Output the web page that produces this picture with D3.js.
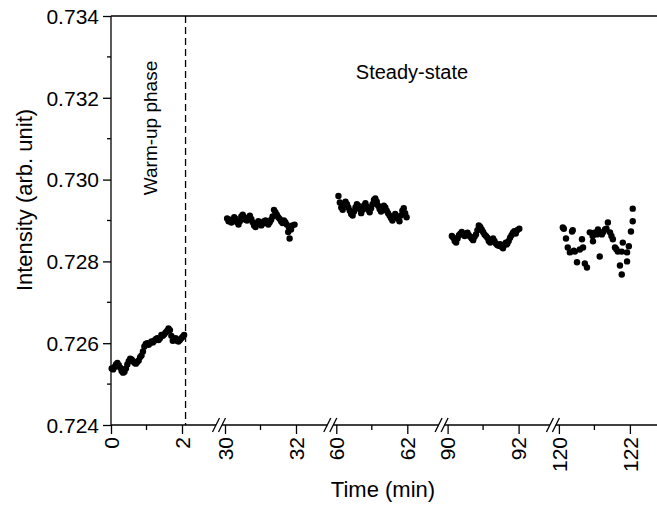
<!DOCTYPE html>
<html>
<head>
<meta charset="utf-8">
<script src="https://cdn.jsdelivr.net/npm/d3@7"></script>
<style>
  body { margin: 0; background: #fff; }
  text { font-family: "Liberation Sans", Arial, sans-serif; fill: #000; }
</style>
</head>
<body>
<div id="chart"></div>
<script>
// segment starts on the broken time axis (min)
const segmentStarts = [0, 30, 60, 90, 120];
const yTicks = [0.724, 0.726, 0.728, 0.730, 0.732, 0.734];

// [time (min), intensity]
const warmup = [
  [0.02, .72538], [0.06, .72536], [0.10, .72542], [0.14, .72548], [0.18, .72552],
  [0.22, .72546], [0.26, .72540], [0.30, .72532], [0.34, .72528], [0.38, .72530],
  [0.42, .72538], [0.46, .72548], [0.50, .72556], [0.54, .72562], [0.58, .72560],
  [0.62, .72556], [0.66, .72552], [0.70, .72550], [0.74, .72554], [0.78, .72558],
  [0.82, .72566], [0.86, .72570], [0.90, .72580], [0.94, .72592], [0.98, .72598],
  [1.02, .72600], [1.06, .72596], [1.10, .72600], [1.14, .72604], [1.18, .72602],
  [1.22, .72606], [1.26, .72610], [1.30, .72612], [1.34, .72608], [1.38, .72612],
  [1.42, .72620], [1.46, .72618], [1.50, .72622], [1.54, .72626], [1.58, .72630],
  [1.62, .72636], [1.66, .72632], [1.70, .72618], [1.74, .72606], [1.78, .72610],
  [1.82, .72612], [1.86, .72606], [1.90, .72604], [1.94, .72608], [1.98, .72612],
  [2.02, .72616], [2.06, .72620]
];
const steady30 = [
  [30.06, .72905], [30.10, .72898], [30.14, .72902], [30.18, .72895], [30.22, .72900],
  [30.26, .72908], [30.30, .72904], [30.34, .72896], [30.38, .72890], [30.42, .72898],
  [30.46, .72910], [30.50, .72914], [30.54, .72908], [30.58, .72902], [30.62, .72900],
  [30.66, .72906], [30.70, .72912], [30.74, .72904], [30.78, .72896], [30.82, .72888],
  [30.86, .72884], [30.90, .72892], [30.94, .72898], [30.98, .72894], [31.02, .72888],
  [31.06, .72892], [31.10, .72898], [31.14, .72900], [31.18, .72894], [31.22, .72890],
  [31.26, .72896], [31.30, .72902], [31.34, .72910], [31.38, .72926], [31.42, .72920],
  [31.46, .72914], [31.50, .72908], [31.54, .72904], [31.58, .72898], [31.62, .72894],
  [31.66, .72900], [31.70, .72896], [31.74, .72890], [31.78, .72872], [31.80, .72884],
  [31.82, .72856], [31.86, .72878], [31.90, .72888], [31.96, .72890]
];
const steady60 = [
  [60.06, .72960], [60.10, .72944], [60.14, .72932], [60.18, .72926], [60.22, .72938],
  [60.26, .72946], [60.30, .72940], [60.34, .72932], [60.38, .72924], [60.42, .72916],
  [60.46, .72912], [60.50, .72922], [60.54, .72932], [60.58, .72940], [60.62, .72936],
  [60.66, .72928], [60.70, .72918], [60.74, .72926], [60.78, .72936], [60.82, .72942],
  [60.86, .72934], [60.90, .72926], [60.94, .72920], [60.98, .72930], [61.02, .72940],
  [61.06, .72950], [61.10, .72954], [61.14, .72946], [61.18, .72936], [61.22, .72928],
  [61.26, .72922], [61.30, .72930], [61.34, .72936], [61.38, .72932], [61.42, .72924],
  [61.46, .72918], [61.50, .72912], [61.54, .72906], [61.58, .72900], [61.62, .72908],
  [61.66, .72916], [61.70, .72910], [61.74, .72904], [61.78, .72898], [61.82, .72912],
  [61.86, .72924], [61.90, .72930], [61.94, .72918], [61.98, .72908]
];
const steady90 = [
  [90.12, .72862], [90.16, .72858], [90.20, .72850], [90.24, .72846], [90.28, .72856],
  [90.32, .72864], [90.36, .72868], [90.40, .72872], [90.44, .72866], [90.48, .72862],
  [90.52, .72866], [90.56, .72870], [90.60, .72864], [90.64, .72860], [90.68, .72856],
  [90.72, .72852], [90.76, .72860], [90.80, .72866], [90.84, .72876], [90.88, .72888],
  [90.92, .72884], [90.96, .72878], [91.00, .72872], [91.04, .72866], [91.08, .72862],
  [91.12, .72858], [91.16, .72850], [91.20, .72846], [91.24, .72852], [91.28, .72856],
  [91.32, .72850], [91.36, .72844], [91.40, .72840], [91.44, .72838], [91.48, .72842],
  [91.52, .72836], [91.56, .72832], [91.60, .72840], [91.64, .72846], [91.68, .72842],
  [91.72, .72850], [91.76, .72858], [91.80, .72864], [91.84, .72870], [91.88, .72874],
  [91.92, .72868], [91.96, .72876], [92.02, .72880]
];
const steady120 = [
  [120.11, .72883], [120.20, .72856], [120.37, .72873], [120.39, .72876], [120.25, .72834],
  [120.31, .72822], [120.45, .72824], [120.59, .72829], [120.68, .72834], [120.65, .72854],
  [120.51, .72798], [120.73, .72795], [120.79, .72785], [120.87, .72871], [120.96, .72849],
  [121.07, .72866], [121.10, .72878], [121.15, .72812], [121.21, .72866], [121.30, .72878],
  [121.38, .72895], [121.44, .72871], [121.52, .72854], [121.58, .72834], [121.66, .72824],
  [121.77, .72824], [121.80, .72846], [121.92, .72822], [121.97, .72837], [121.92, .72800],
  [121.72, .72790], [121.77, .72768], [122.03, .72873], [122.08, .72898], [122.08, .72929],
  [120.95, .72862], [121.00, .72870], [121.25, .72872], [121.34, .72880], [121.12, .72870],
  [121.48, .72862], [120.14, .72880], [120.42, .72826], [121.62, .72830]
];
const segmentData = [warmup, steady30, steady60, steady90, steady120];

const width = 657, height = 505;
const plotLeft = 111, plotRight = 657, plotTop = 16, plotBottom = 425;

const svg = d3.select('#chart').append('svg')
  .attr('width', width)
  .attr('height', height);

const y = d3.scaleLinear().domain([0.724, 0.734]).range([plotBottom, plotTop]);

// one linear scale per axis segment, 2 min wide each
const segX = segmentStarts.map((s, i) => {
  const x0 = i === 0 ? plotLeft : 225 + (i - 1) * 111.3;
  return d3.scaleLinear().domain([s, s + 2]).range([x0, x0 + 71]);
});

// frame
svg.append('line')
  .attr('x1', plotLeft).attr('x2', plotRight).attr('y1', plotTop).attr('y2', plotTop)
  .attr('stroke', '#000').attr('stroke-width', 1.3);
svg.append('line')
  .attr('x1', plotLeft).attr('x2', plotLeft).attr('y1', plotTop).attr('y2', plotBottom)
  .attr('stroke', '#000').attr('stroke-width', 1.3);
svg.append('line')
  .attr('x1', plotLeft).attr('x2', plotRight).attr('y1', plotBottom).attr('y2', plotBottom)
  .attr('stroke', '#000').attr('stroke-width', 1.3);

// y axis
const yAxis = d3.axisLeft(y)
  .tickValues(yTicks)
  .tickFormat(d3.format('.3f'))
  .tickSize(8)
  .tickPadding(4);
const yg = svg.append('g').attr('transform', `translate(${plotLeft},0)`).call(yAxis);
yg.select('.domain').remove();
yg.selectAll('.tick line').attr('stroke-width', 1.3);
yg.selectAll('.tick text').style('font-size', '21px').attr('dy', '0.35em');

const yMinor = d3.range(0.725, 0.734, 0.002);
svg.selectAll('.yminor').data(yMinor).enter().append('line')
  .attr('class', 'yminor')
  .attr('x1', plotLeft - 4).attr('x2', plotLeft)
  .attr('y1', d => y(d)).attr('y2', d => y(d))
  .attr('stroke', '#000').attr('stroke-width', 1.3);

// x axis segments
segX.forEach((sx, i) => {
  const s = segmentStarts[i];
  const ax = d3.axisBottom(sx)
    .tickValues([s, s + 2])
    .tickFormat(d3.format('d'))
    .tickSize(9)
    .tickPadding(3);
  const g = svg.append('g').attr('transform', `translate(0,${plotBottom})`).call(ax);
  g.select('.domain').remove();
  g.selectAll('.tick line').attr('stroke-width', 1.3);
  g.selectAll('.tick text')
    .style('font-size', '21px')
    .attr('text-anchor', 'end')
    .attr('transform', 'rotate(-90)')
    .attr('x', -12)
    .attr('y', 0)
    .attr('dy', '0.35em');
  g.append('line')
    .attr('x1', sx(s + 1)).attr('x2', sx(s + 1))
    .attr('y1', 0).attr('y2', 5)
    .attr('stroke', '#000').attr('stroke-width', 1.3);
});

// axis breaks
segX.slice(1).forEach(sx => {
  const cx = sx.range()[0] - 6;
  svg.append('rect')
    .attr('x', cx - 3).attr('y', plotBottom - 2).attr('width', 6).attr('height', 4)
    .attr('fill', '#fff');
  [-3, 3].forEach(o => {
    svg.append('line')
      .attr('x1', cx + o - 3.5).attr('y1', plotBottom + 7)
      .attr('x2', cx + o + 3.5).attr('y2', plotBottom - 7)
      .attr('stroke', '#000').attr('stroke-width', 1.3);
  });
});

// warm-up boundary
svg.append('line')
  .attr('x1', segX[0](2.1)).attr('x2', segX[0](2.1))
  .attr('y1', plotTop).attr('y2', plotBottom)
  .attr('stroke', '#000').attr('stroke-width', 1.3)
  .attr('stroke-dasharray', '7,4');

// points
segmentData.forEach((pts, i) => {
  svg.append('g').selectAll('circle').data(pts).enter().append('circle')
    .attr('cx', d => segX[i](d[0]))
    .attr('cy', d => y(d[1]))
    .attr('r', 3.2)
    .attr('fill', '#000');
});

// labels
svg.append('text')
  .attr('x', 383).attr('y', 497)
  .attr('text-anchor', 'middle')
  .style('font-size', '22px')
  .text('Time (min)');

svg.append('text')
  .attr('transform', 'translate(32,200) rotate(-90)')
  .attr('text-anchor', 'middle')
  .style('font-size', '22px')
  .text('Intensity (arb. unit)');

svg.append('text')
  .attr('x', 412).attr('y', 79)
  .attr('text-anchor', 'middle')
  .style('font-size', '20px')
  .text('Steady-state');

svg.append('text')
  .attr('transform', 'translate(157,128) rotate(-90)')
  .attr('text-anchor', 'middle')
  .style('font-size', '19px')
  .text('Warm-up phase');
</script>
</body>
</html>
